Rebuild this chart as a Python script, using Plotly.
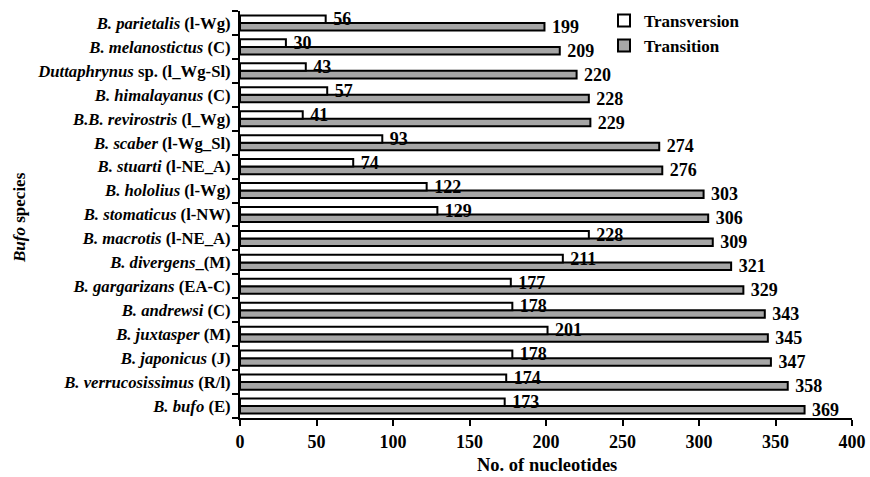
import plotly.graph_objects as go

# Categories listed bottom to top
species_italic = ["B. bufo", "B. verrucosissimus", "B. japonicus", "B. juxtasper", "B. andrewsi",
                  "B. gargarizans", "B. divergens", "B. macrotis", "B. stomaticus", "B. hololius",
                  "B. stuarti", "B. scaber", "B.B. revirostris", "B. himalayanus", "Duttaphrynus",
                  "B. melanostictus", "B. parietalis"]
species_suffix = [" (E)", " (R/l)", " (J)", " (M)", " (C)",
                  " (EA-C)", "_(M)", " (l-NE_A)", " (l-NW)", " (l-Wg)",
                  " (l-NE_A)", " (l-Wg_Sl)", " (l_Wg)", " (C)", " sp. (l_Wg-Sl)",
                  " (C)", " (l-Wg)"]
transversion = [173, 174, 178, 201, 178, 177, 211, 228, 129, 122, 74, 93, 41, 57, 43, 30, 56]
transition = [369, 358, 347, 345, 343, 329, 321, 309, 306, 303, 276, 274, 229, 228, 220, 209, 199]
x_ticks = [0, 50, 100, 150, 200, 250, 300, 350, 400]

cats = [a + b for a, b in zip(species_italic, species_suffix)]
tick_text = [f"<i>{a}</i>{b}" for a, b in zip(species_italic, species_suffix)]

FONT = "Liberation Serif, Times New Roman, serif"


def f(size):
    return dict(family=FONT, size=size, color="black", weight="bold")


fig = go.Figure()
fig.add_trace(go.Bar(
    y=cats, x=transition, orientation="h", name="Transition",
    marker=dict(color="#a6a6a6", line=dict(color="black", width=2)),
    texttemplate=" %{x}", textposition="outside", constraintext="none",
    textfont=f(18), cliponaxis=False, legendrank=2,
))
fig.add_trace(go.Bar(
    y=cats, x=transversion, orientation="h", name="Transversion",
    marker=dict(color="white", line=dict(color="black", width=2)),
    texttemplate=" %{x}", textposition="outside", constraintext="none",
    textfont=f(18), cliponaxis=False, legendrank=1,
))

fig.update_layout(
    width=870, height=477,
    margin=dict(l=240, r=18, t=11, b=59, autoexpand=False),
    paper_bgcolor="white", plot_bgcolor="white",
    barmode="group", bargap=0.37, bargroupgap=0.0,
    font=f(16),
    showlegend=True,
    legend=dict(x=(604 - 240) / 612, y=1.02, xanchor="left", yanchor="top",
                bgcolor="rgba(0,0,0,0)", font=f(17), tracegroupgap=0, itemwidth=30),
    xaxis=dict(range=[0, 400], tickvals=x_ticks, ticks="outside", ticklen=6, tickwidth=2,
               tickcolor="black", showline=True, linecolor="black", linewidth=2,
               showgrid=False, zeroline=False, tickfont=f(18), automargin=False),
    yaxis=dict(type="category", categoryorder="array", categoryarray=cats,
               tickvals=cats, ticktext=tick_text, tickson="boundaries",
               ticks="outside", ticklen=6, tickwidth=2, tickcolor="black",
               showline=True, linecolor="black", linewidth=2, showgrid=False,
               tickfont=f(16.7), automargin=False, ticklabelstandoff=4),
    annotations=[
        dict(text="<i>Bufo</i> species", xref="paper", yref="paper",
             x=(20 - 240) / 612, y=(418 - 218) / 407, xanchor="center", yanchor="middle",
             textangle=-90, showarrow=False, font=f(17)),
        dict(text="No. of nucleotides", xref="paper", yref="paper",
             x=(547 - 240) / 612, y=(418 - 465) / 407, xanchor="center", yanchor="middle",
             showarrow=False, font=f(18.5)),
    ],
)

fig.write_html("out.html", config={"displayModeBar": False},
               post_script="document.body.style.margin='0';")
